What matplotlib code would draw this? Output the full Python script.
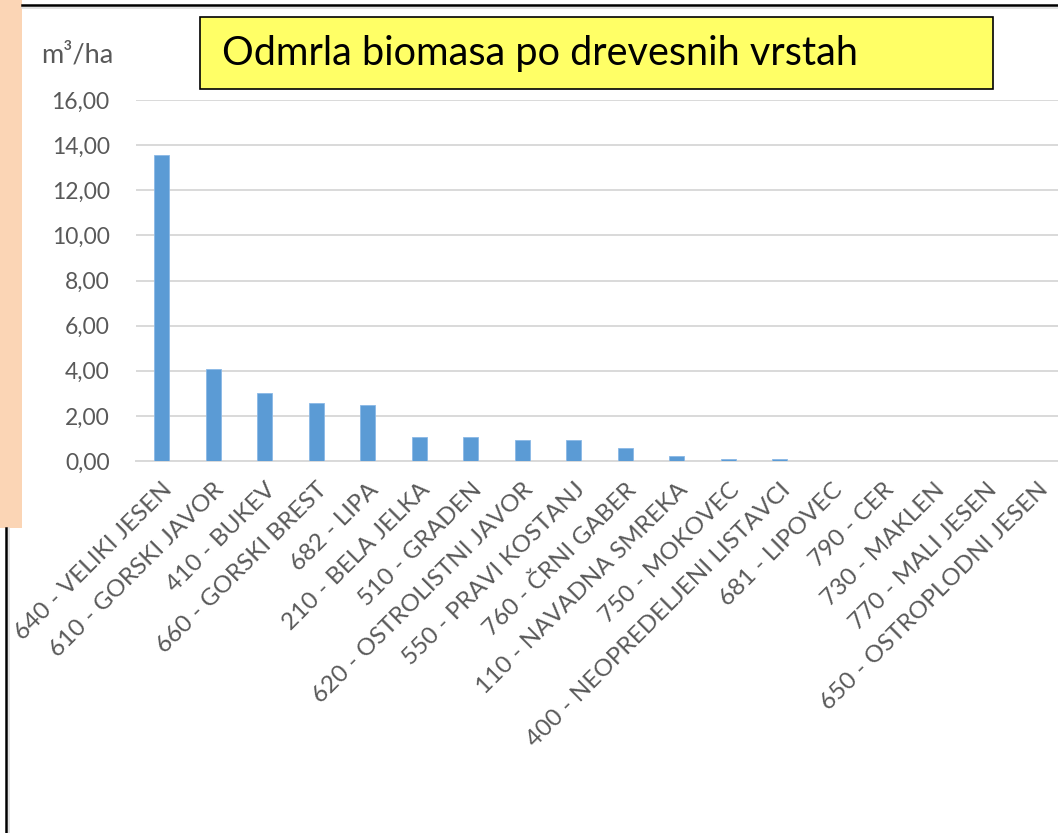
import matplotlib
matplotlib.use("Agg")
import matplotlib.pyplot as plt
from matplotlib.patches import Rectangle
from matplotlib.lines import Line2D

categories = [
    "640 - VELIKI JESEN", "610 - GORSKI JAVOR", "410 - BUKEV", "660 - GORSKI BREST",
    "682 - LIPA", "210 - BELA JELKA", "510 - GRADEN", "620 - OSTROLISTNI JAVOR",
    "550 - PRAVI KOSTANJ", "760 - ČRNI GABER", "110 - NAVADNA SMREKA", "750 - MOKOVEC",
    "400 - NEOPREDELJENI LISTAVCI", "681 - LIPOVEC", "790 - CER", "730 - MAKLEN",
    "770 - MALI JESEN", "650 - OSTROPLODNI JESEN",
]
values = [13.58, 4.06, 3.00, 2.56, 2.50, 1.05, 1.05, 0.92, 0.92, 0.59,
          0.21, 0.08, 0.08, 0.0, 0.0, 0.0, 0.0, 0.0]
yticks = [0, 2, 4, 6, 8, 10, 12, 14, 16]
ytick_labels = ["0,00", "2,00", "4,00", "6,00", "8,00", "10,00", "12,00", "14,00", "16,00"]
title = "Odmrla biomasa po drevesnih vrstah"
unit_label = "m³/ha"

W, H = 1058, 833
fig = plt.figure(figsize=(W / 100, H / 100), dpi=100)
fig.patch.set_facecolor("white")

# decorative frame elements
fig.patches.append(Rectangle((0, 1 - 528 / H), 22 / W, 528 / H, transform=fig.transFigure,
                             facecolor="#FBD5B5", edgecolor="none", zorder=0))
fig.lines.append(Line2D([22 / W, 1], [1 - 7.5 / H, 1 - 7.5 / H], transform=fig.transFigure,
                        color="#DDDDDD", lw=1.2))
fig.lines.append(Line2D([22 / W, 1], [1 - 5 / H, 1 - 5 / H], transform=fig.transFigure,
                        color="black", lw=1.8))
fig.lines.append(Line2D([8.5 / W, 8.5 / W], [0, 1 - 528 / H], transform=fig.transFigure,
                        color="#DDDDDD", lw=1.2))
fig.lines.append(Line2D([6 / W, 6 / W], [0, 1 - 528 / H], transform=fig.transFigure,
                        color="black", lw=1.8))

left = 136 / W
right = 1063 / W
bottom = 1 - 461 / H
top = 1 - 100 / H
ax = fig.add_axes([left, bottom, right - left, top - bottom])
ax.set_facecolor("none")

x = list(range(len(categories)))
ax.bar(x, values, width=0.29, color="#5B9BD5", edgecolor="#8AB8E6", linewidth=0.6, zorder=3)
ax.set_xlim(-0.5, len(categories) - 0.5)
ax.set_ylim(0, 16)
ax.set_yticks(yticks)
ax.set_yticklabels(ytick_labels, fontsize=16.5, color="#595959", family="Lato")
ax.yaxis.grid(True, color="#D9D9D9", lw=1.4, zorder=0)
ax.tick_params(axis="y", length=0, pad=19)
ax.tick_params(axis="x", length=0, pad=13)
ax.set_xticks(x)
ax.set_xticklabels(categories, rotation=45, ha="right", va="top", rotation_mode="anchor",
                   fontsize=17.5, color="#595959", family="Lato")
for s in ["top", "right", "left"]:
    ax.spines[s].set_visible(False)
ax.spines["bottom"].set_color("#D9D9D9")
ax.spines["bottom"].set_linewidth(1.4)

fig.text(77 / W, 1 - 55 / H, unit_label, ha="center", va="center", fontsize=19.5,
         color="#595959", family="Lato")

# title box
fig.patches.append(Rectangle((200 / W, 1 - 89 / H), 793 / W, 72 / H, transform=fig.transFigure,
                             facecolor="#FFFF66", edgecolor="black", lw=1.2, zorder=5))
fig.text(222 / W, 1 - 53 / H, title, ha="left", va="center", fontsize=28.5,
         color="black", family="Lato", zorder=6)

fig.savefig("out.png", dpi=100)
